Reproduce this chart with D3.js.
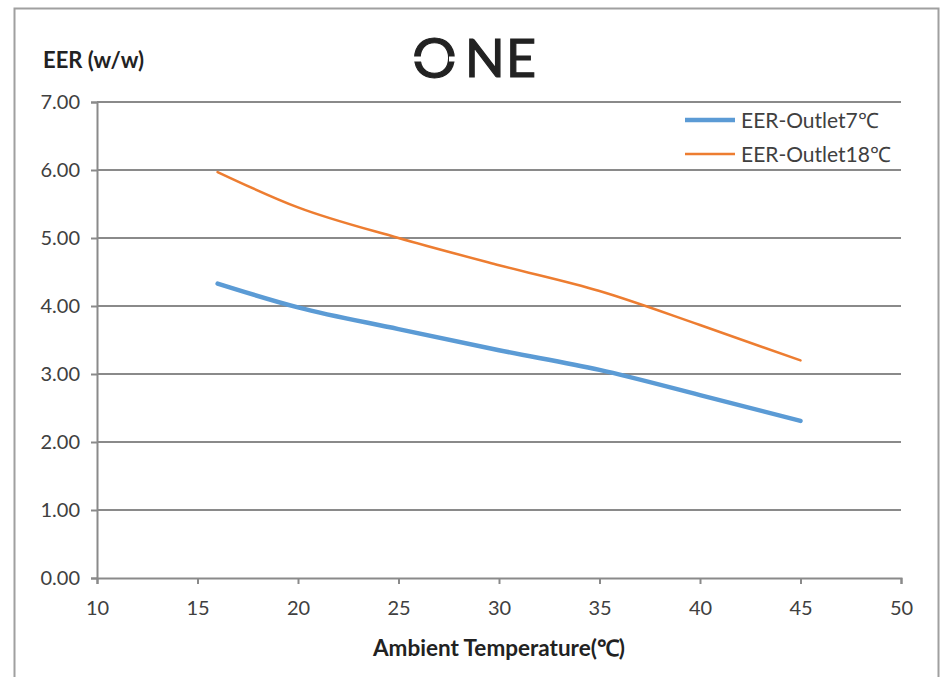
<!DOCTYPE html>
<html><head><meta charset="utf-8">
<script src="https://cdn.jsdelivr.net/npm/d3@7"></script>
<style>body{margin:0;background:#fff}svg{display:block}</style>
</head><body>
<svg id="c" width="949" height="677"></svg>
<script>
const temps = [16, 20, 25, 30, 35, 40, 45];
const eer7 = [4.33, 3.98, 3.66, 3.35, 3.06, 2.69, 2.31];
const eer18 = [5.97, 5.45, 5.00, 4.60, 4.22, 3.72, 3.20];
const seriesNames = ["EER-Outlet7℃", "EER-Outlet18℃"];
const seriesColors = ["#5b9bd5", "#ed7d31"];
const xTicks = [10, 15, 20, 25, 30, 35, 40, 45, 50];
const yTicks = [0, 1, 2, 3, 4, 5, 6, 7];

const svg = d3.select("#c");
const font = "Lato, 'Open Sans', sans-serif";
const txt = "#404040";
const grid = "#8a8a8a";

// frame
svg.append("path").attr("d","M14.5,690 L14.5,8.5 L938.5,8.5 L938.5,690")
  .attr("fill","none").attr("stroke","#a0a0a0").attr("stroke-width",2);

const x = d3.scaleLinear().domain([10, 50]).range([97, 901]);
const y = d3.scaleLinear().domain([0, 7]).range([578, 102]);

// gridlines
svg.append("g").selectAll("line").data(yTicks.filter(d=>d>0)).join("line")
  .attr("x1", x(10)).attr("x2", x(50)).attr("y1", d=>y(d)).attr("y2", d=>y(d))
  .attr("stroke", grid).attr("stroke-width", 2);

// axes
const yAxis = svg.append("g").attr("transform", `translate(${x(10)},0)`)
  .call(d3.axisLeft(y).tickValues(yTicks).tickFormat(d3.format(".2f")).tickSize(6).tickPadding(11));
const xAxis = svg.append("g").attr("transform", `translate(0,${y(0)})`)
  .call(d3.axisBottom(x).tickValues(xTicks).tickFormat(d3.format("d")).tickSize(6).tickPadding(17));
[yAxis, xAxis].forEach(a=>{
  a.select(".domain").attr("stroke", grid).attr("stroke-width", 2);
  a.selectAll(".tick line").attr("stroke", grid).attr("stroke-width", 2);
  a.selectAll("text").attr("fill", txt).attr("font-family", font).attr("font-size", 20);
});

// lines
const seriesData = [eer7, eer18];
const line = d3.line().x(d=>x(d[0])).y(d=>y(d[1])).curve(d3.curveMonotoneX);
seriesData.forEach((vals, i)=>{
  svg.append("path").datum(temps.map((t,j)=>[t, vals[j]]))
    .attr("d", line).attr("fill","none")
    .attr("stroke", seriesColors[i]).attr("stroke-width", i===0?4.5:2.5)
    .attr("stroke-linecap","round");
});

// legend
seriesNames.forEach((n,i)=>{
  const ly = 120 + i*34;
  svg.append("line").attr("x1",685).attr("x2",735).attr("y1",ly).attr("y2",ly)
    .attr("stroke", seriesColors[i]).attr("stroke-width", i===0?4.5:2.5);
  svg.append("text").attr("x",741).attr("y",ly+8).text(n)
    .attr("fill", txt).attr("font-family", font).attr("font-size", 21);
});

// axis titles
svg.append("text").attr("x",43).attr("y",68).text("EER (w/w)")
  .attr("font-family", font).attr("font-weight","bold").attr("font-size",22).attr("fill","#222");
svg.append("text").attr("x",499).attr("y",656).attr("text-anchor","middle").text("Ambient Temperature(℃)")
  .attr("font-family", font).attr("font-weight","bold").attr("font-size",22.5).attr("fill","#222");

// logo
const logo = svg.append("text").attr("y",77)
  .attr("font-family", "Lato, sans-serif").attr("font-size",52)
  .attr("fill","#222").attr("stroke","#222").attr("stroke-width",1.2);
logo.append("tspan").attr("x",412).attr("font-size",56).attr("dy",1).text("O");
logo.append("tspan").attr("x",465).attr("dy",-1).text("N");
logo.append("tspan").attr("x",506).text("E");
// gaps in the "O" of the logo
svg.append("rect").attr("x",410).attr("y",56.5).attr("width",14).attr("height",5).attr("fill","#fff");
svg.append("rect").attr("x",449).attr("y",56.5).attr("width",14).attr("height",5).attr("fill","#fff");
</script>
</body></html>
